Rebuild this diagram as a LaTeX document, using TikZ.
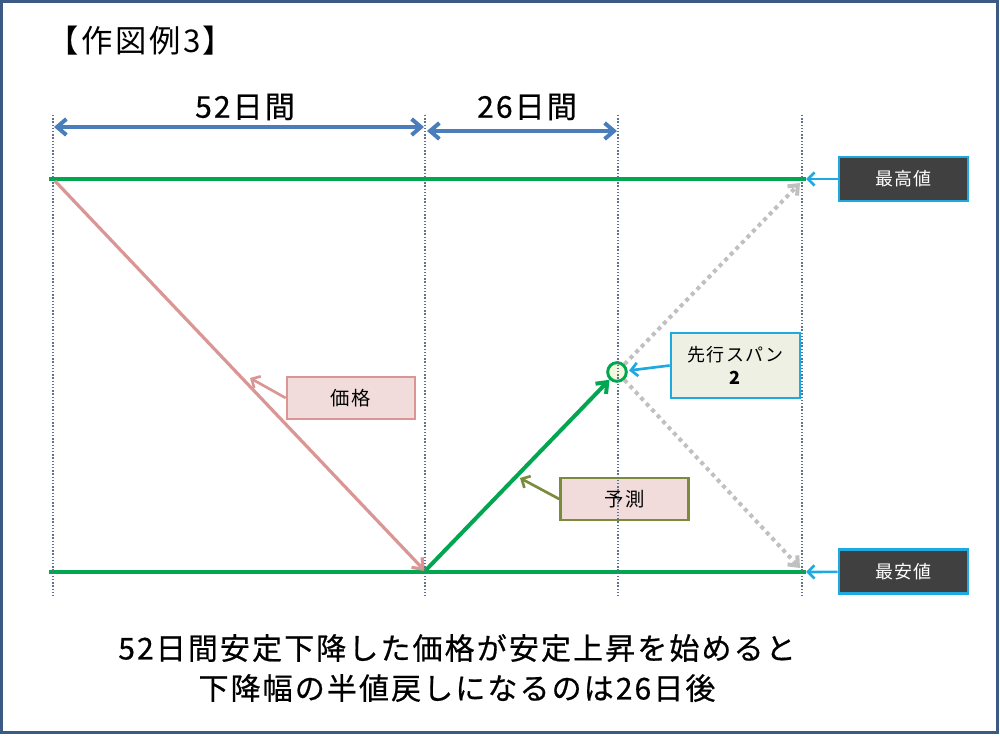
\documentclass[tikz,border=0pt]{standalone}
\usepackage{fontspec}
\setmainfont{Noto Sans CJK JP}
\newfontfamily\jpwide[LetterSpace=7,FakeBold=0.6]{Noto Sans CJK JP}
\newfontfamily\jptight[LetterSpace=8]{Noto Sans CJK JP}
\usetikzlibrary{arrows.meta}
\begin{document}
\begin{tikzpicture}[x=0.75pt,y=-0.75pt]
 \definecolor{framecolor}{HTML}{3B5B84}
 \definecolor{linegreen}{HTML}{00A650}
 \definecolor{spanblue}{HTML}{4A7EBB}
 \definecolor{pricecolor}{HTML}{D99694}
 \definecolor{tagcyan}{HTML}{1FA9E1}
 \definecolor{guessgray}{HTML}{C0C0C0}
 \definecolor{gridcolor}{HTML}{5F7390}
 \definecolor{darkbox}{HTML}{404040}
 \definecolor{leadfill}{HTML}{EEF0E4}
 \definecolor{notefill}{HTML}{F2DCDB}
 \definecolor{forecastolive}{HTML}{7A8C3C}
 \definecolor{circlefill}{HTML}{F3F7DE}
 \tikzset{
  vline/.style={gridcolor,line width=0.9pt,dash pattern=on 1pt off 1.4pt},
  level/.style={linegreen,line width=3pt},
  span/.style={spanblue,line width=3pt,{Straight Barb[length=7pt,width=12pt]}-{Straight Barb[length=7pt,width=12pt]}},
  guess/.style={guessgray,line width=3pt,dash pattern=on 3pt off 3pt,-{Straight Barb[length=6pt,width=10pt]}},
  pointer/.style={line width=2pt,-{Straight Barb[length=5pt,width=10pt]}},
  tag/.style={draw=tagcyan,line width=2pt,minimum width=96.75pt,minimum height=33pt,inner sep=0pt,font=\jptight\fontsize{13.5}{17}\selectfont},
  note/.style={draw=pricecolor,line width=2pt,fill=notefill,minimum width=96pt,minimum height=31.5pt,inner sep=0pt,font=\jptight\fontsize{14.5}{16}\selectfont}
 }
 \useasboundingbox (0,0) rectangle (1000,755);
 \draw [framecolor,line width=2.2pt] (1.5,1.5) rectangle (997.5,732.5);
 \node [font=\jptight\fontsize{23.5}{26}\selectfont] (title) at (141,41) {【作図例3】};
 \coordinate (hi start) at (49,179);
 \coordinate (hi end) at (806,179);
 \coordinate (lo start) at (49,572);
 \coordinate (lo end) at (806,572);
 \coordinate (peak) at (55,181);
 \coordinate (turn) at (425,571);
 \coordinate (hi tip) at (800,183);
 \coordinate (lo tip) at (800,568);
 \coordinate (price tip) at (250,378);
 \coordinate (forecast tip) at (520,478);
 \coordinate (w52 left) at (54,127);
 \coordinate (w52 right) at (424,127);
 \coordinate (w26 left) at (427,131);
 \coordinate (w26 right) at (617,131);
 \draw [span] (w52 left) -- (w52 right);
 \draw [span] (w26 left) -- (w26 right);
 \node [font=\jpwide\fontsize{22.5}{26}\selectfont] (days52) at (245,107) {52日間};
 \node [font=\jpwide\fontsize{22.5}{26}\selectfont] (days26) at (527,107) {26日間};
 \draw [level] (hi start) -- (hi end);
 \draw [level] (lo start) -- (lo end);
 \draw [pricecolor,line width=2.4pt,-{Straight Barb[length=7pt,width=11pt]}] (peak) -- (turn);
 \node [circle,draw=linegreen,line width=2.2pt,fill=circlefill,minimum size=14pt,inner sep=0pt] (span2) at (617,372) {};
 \draw [level,-{Straight Barb[length=7pt,width=11pt]}] (turn) -- (span2);
 \draw [guess] (span2) -- (hi tip);
 \draw [guess] (span2) -- (lo tip);
 \node [tag,fill=darkbox,text=white] (high) at (903.5,179) {最高値};
 \node [tag,fill=darkbox,text=white] (low) at (903.5,571.5) {最安値};
 \node [tag,fill=leadfill,minimum height=48.75pt,align=center] (lead) at (735.5,365.5) {先行スパン\\\textbf{2}};
 \node [note] (price) at (351,398) {価格};
 \node [note,draw=forecastolive] (forecast) at (624.5,499) {予測};
 \draw [pointer,tagcyan] (high) -- (hi end);
 \draw [pointer,tagcyan] (low) -- (lo end);
 \draw [pointer,tagcyan,shorten >=1pt] (lead.west) -- (span2);
 \draw [pointer,pricecolor] (price.west) -- (price tip);
 \draw [pointer,forecastolive] (forecast.west) -- (forecast tip);
 \draw [vline] (53,115) -- (53,598);
 \draw [vline] (425,115) -- (425,598);
 \draw [vline] (618,115) -- (618,598);
 \draw [vline] (802,115) -- (802,598);
 \node [font=\jpwide\fontsize{22.5}{30}\selectfont,align=center] (summary) at (457,668) {52日間安定下降した価格が安定上昇を始めると\\下降幅の半値戻しになるのは26日後};
\end{tikzpicture}
\end{document}
